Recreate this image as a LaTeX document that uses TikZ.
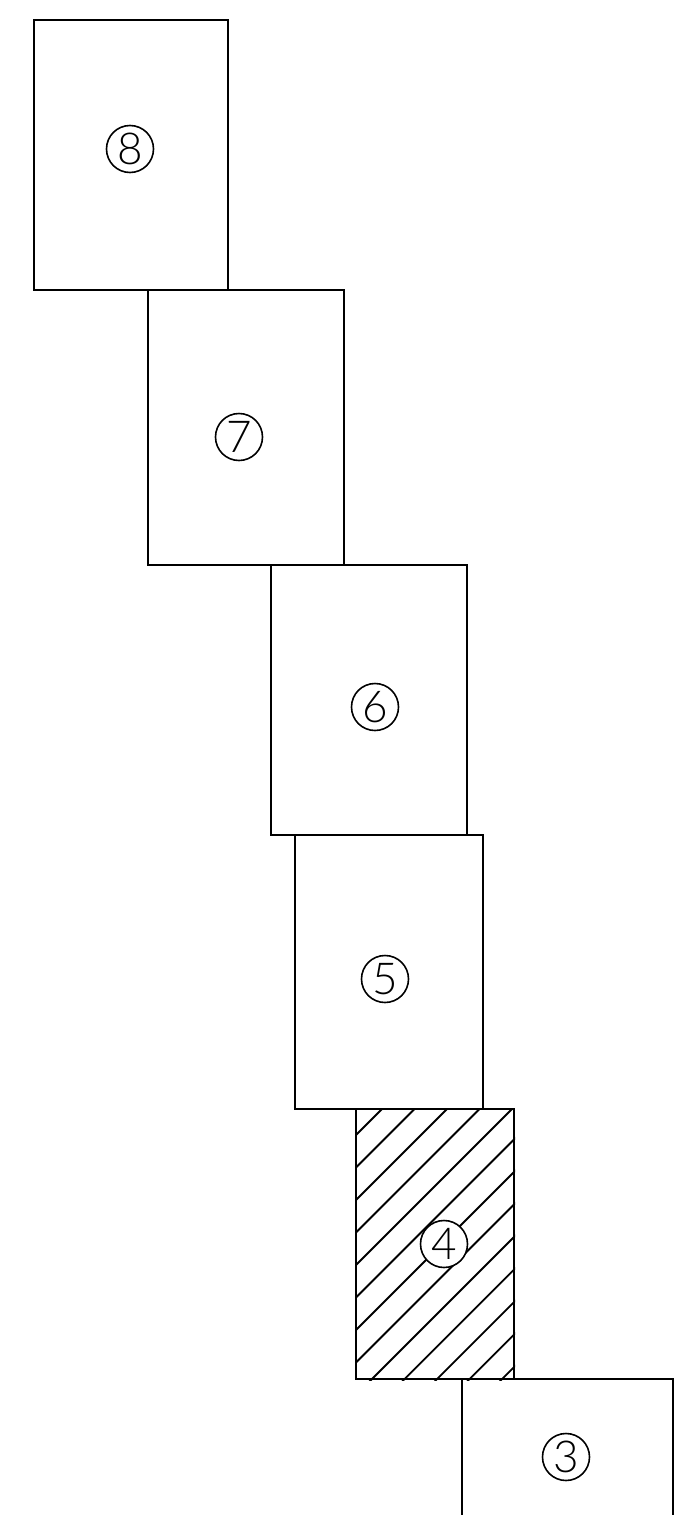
\documentclass[tikz,border=0pt]{standalone}
\usepackage{fontspec}
\newfontfamily\tagfont{Lato}[UprightFont={* Light}]
\usepackage{tikz}
\tikzset{box/.style={draw, line width=2pt, inner sep=0pt, anchor=north west}}
\tikzset{tag/.style={draw, circle, line width=1.6pt, fill=white, minimum size=47pt, inner sep=0pt, font=\tagfont\fontsize{44}{44}\selectfont}}
\tikzset{hatch/.style={line width=1.8pt}}

\begin{document}
\begin{tikzpicture}[x=1pt, y=-1pt]
	\useasboundingbox (0,0) rectangle (700,1515);

	% BOXES (top to bottom)
	\node[box, minimum width=194pt, minimum height=270pt] (b8) at (33,19) {};
	\node[box, minimum width=196pt, minimum height=275pt] (b7) at (147,289) {};
	\node[box, minimum width=196pt, minimum height=270pt] (b6) at (270,564) {};
	\node[box, minimum width=188pt, minimum height=274pt] (b5) at (294,834) {};
	\node[box, minimum width=158pt, minimum height=270pt] (b4) at (355,1108) {};
	\node[box, minimum width=211pt, minimum height=170pt] (b3) at (461,1378) {};

	% hatching of b4
	\begin{scope}
		\clip (b4.north west) rectangle (b4.south east);
		\foreach \c in {1491,1523.5,...,1882}
			\draw[hatch] (\c-1100,1100) -- (\c-1400,1400);
	\end{scope}

	% TAGS
	\node[tag] (t8) at (130,149) {8};
	\node[tag] (t7) at (239,437) {7};
	\node[tag] (t6) at (375,707) {6};
	\node[tag] (t5) at (385,979) {5};
	\node[tag] (t4) at (444,1244) {4};
	\node[tag] (t3) at (566,1457) {3};
\end{tikzpicture}
\end{document}
